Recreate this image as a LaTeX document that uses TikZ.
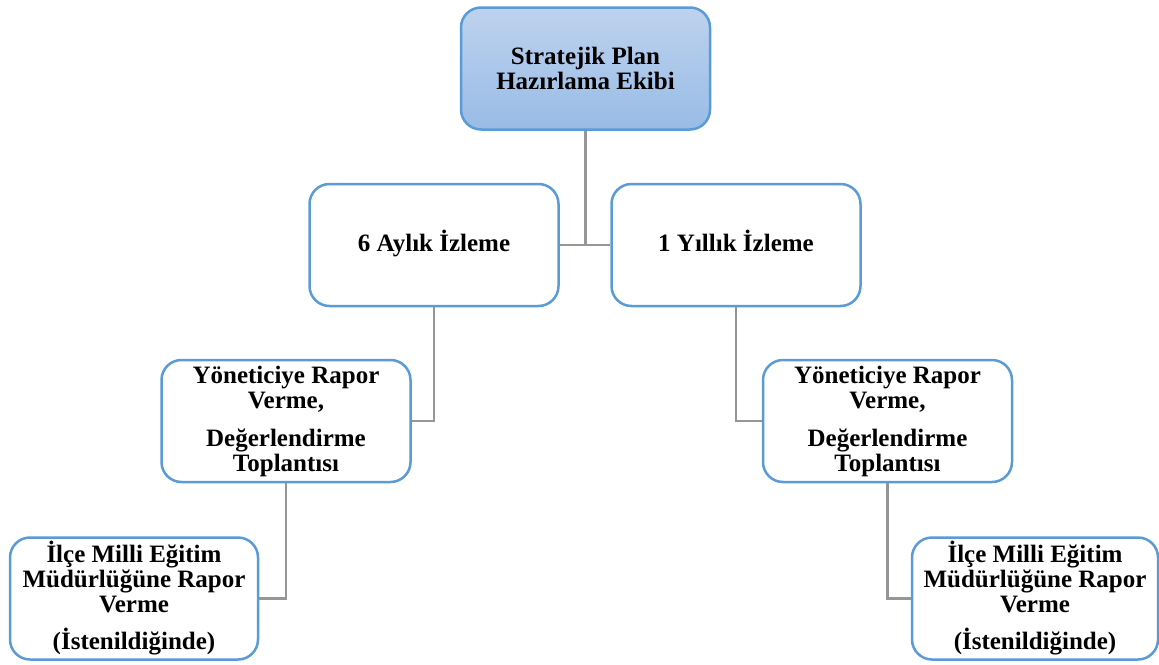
\documentclass[tikz,border=0pt]{standalone}
\usepackage{fontspec}
\setmainfont{Liberation Serif}
\usepackage{tikz}

\definecolor{boxblue}{RGB}{91,155,213}
\definecolor{linegray}{RGB}{150,150,150}

\tikzset{
  planbox/.style={draw=boxblue, line width=2.5pt, rounded corners=20pt, fill=white,
    minimum width=249pt, minimum height=122pt, inner sep=0pt, align=center,
    font=\bfseries\fontsize{25}{25}\selectfont},
  topbox/.style={planbox, top color={rgb,255:red,190;green,210;blue,238},
    bottom color={rgb,255:red,152;green,188;blue,230}},
  link/.style={draw=linegray, line width=2.5pt}
}

\begin{document}
\begin{tikzpicture}[x=1pt,y=-1pt]
      \useasboundingbox (0,0) rectangle (1159,664);

       %draw boxes
      \node[topbox] (ekip) at (585.5,68.5) {Stratejik Plan\\Hazırlama Ekibi};
      \node[planbox] (alti) at (434,245) {\strut 6 Aylık İzleme};
      \node[planbox] (yil) at (736,245) {\strut 1 Yıllık İzleme};
      \node[planbox] (rapsol) at (286,421) {Yöneticiye Rapor\\Verme,\\[13pt]Değerlendirme\\Toplantısı};
      \node[planbox] (rapsag) at (887.5,421) {Yöneticiye Rapor\\Verme,\\[13pt]Değerlendirme\\Toplantısı};
      \node[planbox, minimum width=248pt] (ilcesol) at (134,598.5) {İlçe Milli Eğitim\\Müdürlüğüne Rapor\\Verme\\[12pt](İstenildiğinde)};
      \node[planbox, minimum width=246pt] (ilcesag) at (1035,598.5) {İlçe Milli Eğitim\\Müdürlüğüne Rapor\\Verme\\[12pt](İstenildiğinde)};

       %draw connectors
      \draw[link] (ekip.south) -- (ekip.south |- alti.east);
      \draw[link] (alti.east) -- (yil.west);
      \draw[link] (alti.south) |- (rapsol.east);
      \draw[link] (yil.south) |- (rapsag.west);
      \draw[link] (rapsol.south) |- (ilcesol.east);
      \draw[link] (rapsag.south) |- (ilcesag.west);
\end{tikzpicture}
\end{document}
